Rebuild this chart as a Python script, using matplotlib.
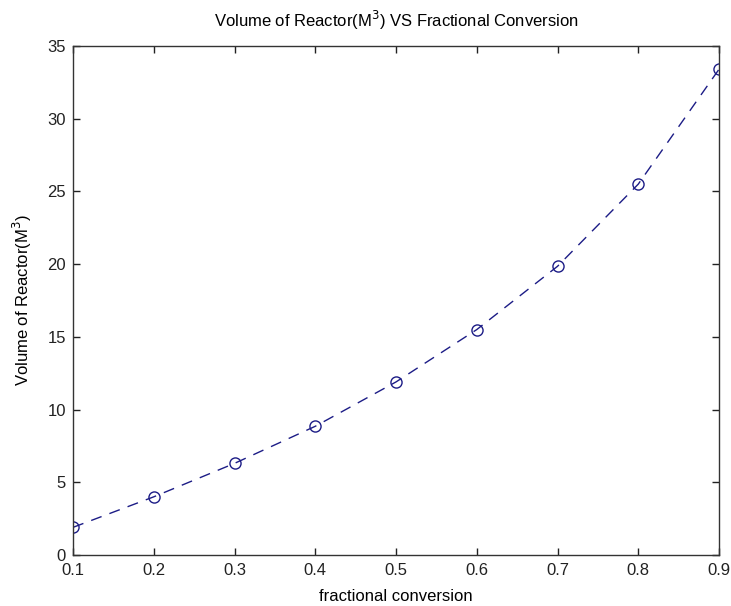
import matplotlib
matplotlib.use("Agg")
import matplotlib.pyplot as plt

# fractional conversion vs reactor volume
conversion = [0.1, 0.2, 0.3, 0.4, 0.5, 0.6, 0.7, 0.8, 0.9]
volume = [1.9, 4.0, 6.3, 8.85, 11.9, 15.5, 19.85, 25.5, 33.4]

xticks = [0.1, 0.2, 0.3, 0.4, 0.5, 0.6, 0.7, 0.8, 0.9]
yticks = [0, 5, 10, 15, 20, 25, 30, 35]

plt.rcParams['font.family'] = ['Liberation Sans Narrow', 'Liberation Sans', 'DejaVu Sans']

fig = plt.figure(figsize=(7.31, 6.06), dpi=100)
ax = fig.add_axes([73 / 731, 1 - 555 / 606, (719 - 73) / 731, (555 - 46) / 606])

ax.plot(conversion, volume, linestyle=(0, (8, 6)), color='#1c1c86', linewidth=1.0,
        marker='o', markersize=8, markerfacecolor='none', markeredgecolor='#1c1c86',
        markeredgewidth=1.0)

ax.set_xlim(0.1, 0.9)
ax.set_ylim(0, 35)
ax.set_xticks(xticks)
ax.set_xticklabels([str(t) for t in xticks])
ax.set_yticks(yticks)
ax.tick_params(direction='in', length=5, top=True, right=True, labelsize=12,
               colors='#222222', width=1)
ax.tick_params(axis='x', pad=6)
ax.tick_params(axis='y', pad=5)
for s in ax.spines.values():
    s.set_color('#333333')
    s.set_linewidth(1.0)

ax.set_title('Volume of Reactor(M$^3$) VS Fractional Conversion', fontsize=12, pad=14)
ax.set_xlabel('fractional conversion', fontsize=12, labelpad=8)
ax.set_ylabel('Volume of Reactor(M$^3$)', fontsize=12, labelpad=10)

fig.savefig('out.png', dpi=100)
